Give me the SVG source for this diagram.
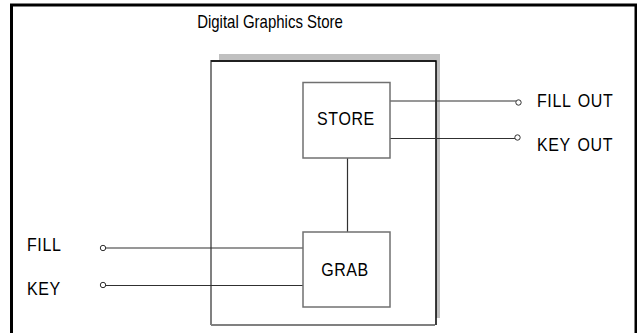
<svg xmlns="http://www.w3.org/2000/svg" width="637" height="333" viewBox="0 0 637 333">
<style>
text{font-family:"Liberation Sans",Arial,sans-serif;fill:#000}
.lbl{font-size:16px;letter-spacing:0.6px;word-spacing:2px}
.box{fill:#fff;stroke:#707070;stroke-width:1.5}
.wire{stroke:#303030;stroke-width:1.2;fill:none}
.term{fill:#fff;stroke:#303030;stroke-width:1}
</style>
<rect width="637" height="333" fill="#fff"/>
<g id="frame">
<path d="M11.5,340 V5 H636 V340" fill="none" stroke="#000" stroke-width="3"/>
<text transform="translate(270,28) scale(1,1.18)" font-size="15" text-anchor="middle">Digital Graphics Store</text>
</g>
<g id="device">
<rect x="219" y="54" width="221" height="264" fill="#c0c0c0"/>
<rect x="211" y="61" width="225" height="264" fill="#fff"/>
<path d="M211,325 V61 H436" fill="none" stroke="#808080" stroke-width="2"/>
<path d="M211,61 H436 V325" fill="none" stroke="#000" stroke-width="1.5"/>
<path d="M211,325 H435" fill="none" stroke="#808080" stroke-width="2"/>
</g>
<g id="connectors">
<line class="wire" x1="390" y1="101" x2="516" y2="101"/>
<line class="wire" x1="390" y1="138.5" x2="515" y2="138.5"/>
<line class="wire" x1="347.5" y1="158" x2="347.5" y2="232"/>
<line class="wire" x1="105.5" y1="248" x2="303" y2="248"/>
<line class="wire" x1="105.5" y1="285.5" x2="303" y2="285.5"/>
<circle class="term" cx="518.5" cy="102.5" r="2.7"/>
<circle class="term" cx="517.5" cy="137.5" r="2.7"/>
<circle class="term" cx="103" cy="248" r="2.7"/>
<circle class="term" cx="103" cy="285" r="2.7"/>
</g>
<g id="store">
<rect class="box" x="303" y="82.5" width="87" height="75.5"/>
<text class="lbl" transform="translate(346,125) scale(1,1.12)" font-size="16.5" text-anchor="middle">STORE</text>
</g>
<g id="grab">
<rect class="box" x="303" y="232" width="87" height="75"/>
<text class="lbl" transform="translate(345,276) scale(1,1.12)" font-size="16.5" text-anchor="middle">GRAB</text>
</g>
<g id="fill-in"><text class="lbl" transform="translate(27,251) scale(1,1.12)">FILL</text></g>
<g id="key-in"><text class="lbl" transform="translate(27,295) scale(1,1.12)">KEY</text></g>
<g id="fill-out"><text class="lbl" transform="translate(537,107) scale(1,1.12)">FILL OUT</text></g>
<g id="key-out"><text class="lbl" transform="translate(537,151) scale(1,1.12)">KEY OUT</text></g>
</svg>
